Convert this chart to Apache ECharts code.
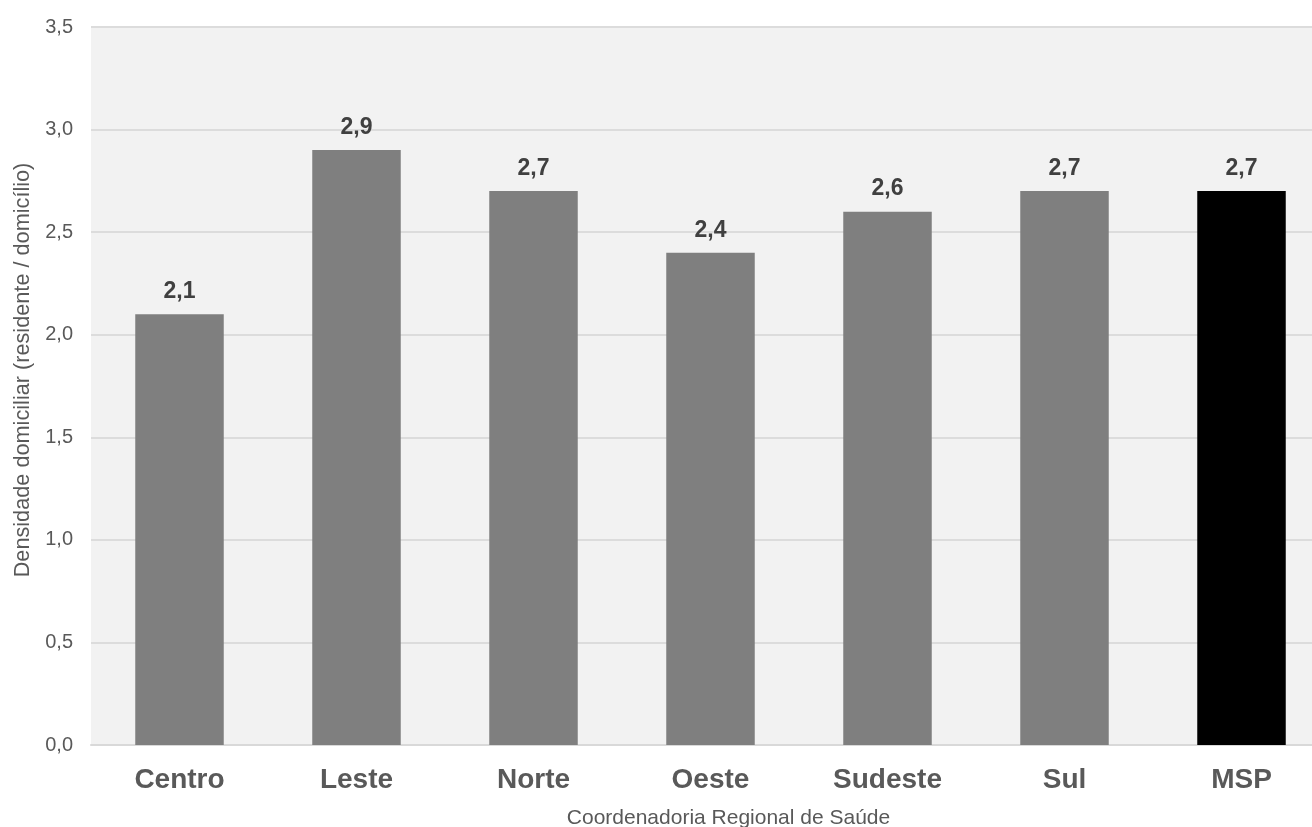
<!DOCTYPE html>
<html><head><meta charset="utf-8">
<script src="https://cdn.jsdelivr.net/npm/echarts@6/dist/echarts.min.js"></script>
<style>html,body{margin:0;padding:0;background:#fff}#c{width:1312px;height:827px}</style>
</head><body><div id="c"></div>
<script>
const categories = ['Centro','Leste','Norte','Oeste','Sudeste','Sul','MSP'];
const values = [2.1, 2.9, 2.7, 2.4, 2.6, 2.7, 2.7];
const barColors = ['#7f7f7f','#7f7f7f','#7f7f7f','#7f7f7f','#7f7f7f','#7f7f7f','#000000'];
const fmt = v => v.toFixed(1).replace('.', ',');
const chart = echarts.init(document.getElementById('c'));
chart.setOption({
  animation:false,
  grid:{left:91, top:27, width:1239, height:718, show:true, backgroundColor:'#f2f2f2', borderWidth:0, containLabel:false, outerBoundsMode:'none'},
  xAxis:{type:'category', data:categories,
    axisLine:{show:true, lineStyle:{color:'#d9d9d9', width:2}}, axisTick:{show:false},
    axisLabel:{color:'#595959', fontSize:28, fontWeight:'bold', fontFamily:'Liberation Sans, Arial', margin:21},
    name:'Coordenadoria Regional de Saúde', nameLocation:'middle', nameGap:63,
    nameTextStyle:{color:'#595959', fontSize:21, fontFamily:'Liberation Sans, Arial', padding:[0,0,0,36]}},
  yAxis:{type:'value', min:0, max:3.5, interval:0.5,
    axisLine:{show:false}, axisTick:{show:false},
    splitLine:{lineStyle:{color:'#dcdcdc', width:2}},
    axisLabel:{color:'#595959', fontSize:20, fontFamily:'Liberation Sans, Arial', margin:18, formatter:v=>fmt(v)},
    name:'Densidade domiciliar (residente / domicílio)', nameLocation:'middle', nameGap:56, nameRotate:90,
    nameTextStyle:{color:'#595959', fontSize:21.7, fontFamily:'Liberation Sans, Arial', padding:[0,0,0,32]}},
  series:[{type:'bar', barWidth:'50%',
    data: values.map((v,i)=>({value:v, itemStyle:{color:barColors[i]}})),
    label:{show:true, position:'top', distance:11, color:'#404040', fontSize:23, fontWeight:'bold', fontFamily:'Liberation Sans, Arial', formatter:p=>fmt(p.value)}}]
});
</script></body></html>
